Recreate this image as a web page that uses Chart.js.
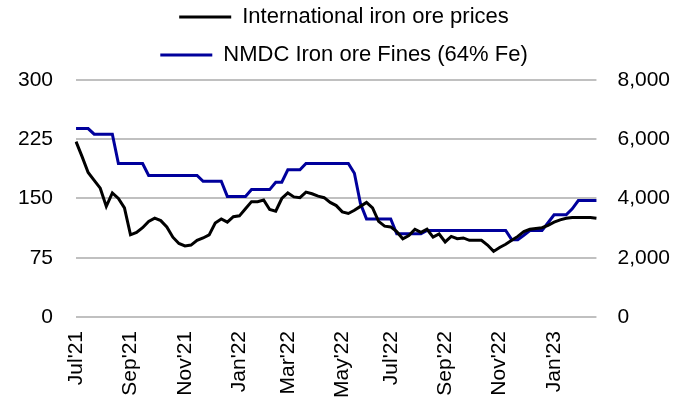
<!DOCTYPE html>
<html>
<head>
<meta charset="utf-8">
<script src="https://cdn.jsdelivr.net/npm/chart.js@4"></script>
<style>
  html, body { margin: 0; padding: 0; background: #fff; }
  #wrap { width: 689px; height: 401px; }
</style>
</head>
<body>
<div id="wrap"><canvas id="myChart" width="689" height="401"></canvas></div>
<script>
// weekly series, first week of Jul'21 to mid Mar'23
var startDate = '2021-07-02';
var intlPrices = [222,203,183,173,163,140,157,150,138,104,107,113,121,125,122,114,101,93,90,91,
                  97,100,104,119,124,120,127,128,137,146,146,148,136,134,150,157,152,151,158,156,
                  153,151,145,141,133,131,135,140,145,138,121,115,114,108,99,103,111,107,111,101,
                  105,95,102,99,100,97,97,97,91,83,88,92,97,102,108,111,112,113,116,120,
                  123,125,126,126,126,126,125];
var nmdcFines = [6360,6360,6360,6170,6170,6170,6170,5180,5180,5180,5180,5180,4780,4780,4780,4780,4780,4780,4780,4780,
                 4780,4580,4580,4580,4580,4070,4070,4070,4070,4300,4300,4300,4300,4550,4550,4970,4970,4970,5180,5180,
                 5180,5180,5180,5180,5180,5180,4850,3830,3310,3310,3310,3310,3310,2810,2810,2810,2810,2810,2920,2920,
                 2920,2920,2920,2920,2920,2920,2920,2920,2920,2920,2920,2920,2610,2610,2760,2920,2920,2920,3180,3450,
                 3450,3450,3650,3930,3930,3930,3930];
var monthNames = ['Jan','Feb','Mar','Apr','May','Jun','Jul','Aug','Sep','Oct','Nov','Dec'];
var seriesNames = ['International iron ore prices', 'NMDC Iron ore Fines (64% Fe)'];

var weeks = [];
var d0 = new Date(startDate + 'T00:00:00');
for (var i = 0; i < intlPrices.length; i++) {
    weeks.push(new Date(d0.getTime() + i * 7 * 86400000));
}

Chart.defaults.font.family = "'Liberation Sans', Arial, sans-serif";
Chart.defaults.font.size = 21;
Chart.defaults.color = '#000';

var noTick = 'rgba(0,0,0,0)';

var ctx = document.getElementById('myChart').getContext('2d');
var myChart = new Chart(ctx, {
    type: 'line',
    data: {
        labels: weeks,
        datasets: [{
            label: seriesNames[0],
            data: intlPrices,
            borderColor: '#000000',
            backgroundColor: '#000000',
            borderWidth: 3,
            pointRadius: 0,
            tension: 0,
            yAxisID: 'y',
        }, {
            label: seriesNames[1],
            data: nmdcFines,
            borderColor: '#00009c',
            backgroundColor: '#00009c',
            borderWidth: 3,
            pointRadius: 0,
            tension: 0,
            yAxisID: 'y1',
        }],
    },
    options: {
        responsive: false,
        animation: false,
        layout: { padding: { top: -10, left: 18, right: 19, bottom: 3 } },
        plugins: {
            tooltip: { enabled: false },
            legend: {
                position: 'top',
                labels: {
                    usePointStyle: true,
                    pointStyle: 'line',
                    pointStyleWidth: 52,
                    padding: 16,
                    font: { size: 22 },
                    color: '#000',
                },
            },
            // empty spacer between legend and plot
            subtitle: {
                display: true,
                text: '',
                weight: 500,
                padding: 0,
                font: { size: 4, lineHeight: 1 },
            },
        },
        scales: {
            x: {
                grid: { display: true, drawOnChartArea: false, drawTicks: true, tickLength: 14, tickColor: noTick },
                border: { display: false },
                ticks: {
                    autoSkip: false,
                    maxRotation: 90,
                    minRotation: 90,
                    padding: 0,
                    callback: function (value, index) {
                        var d = weeks[index];
                        if (d.getDate() <= 7 && d.getMonth() % 2 === 0) {
                            return monthNames[d.getMonth()] + "'" + String(d.getFullYear()).slice(2);
                        }
                        return null;
                    },
                },
            },
            y: {
                position: 'left',
                min: 0,
                max: 300,
                ticks: { stepSize: 75, padding: 0 },
                grid: { color: '#c0c0c0', lineWidth: 2, drawTicks: true, tickLength: 23, tickColor: noTick },
                border: { display: false },
            },
            y1: {
                position: 'right',
                min: 0,
                max: 8000,
                ticks: {
                    stepSize: 2000,
                    padding: 0,
                    callback: function (v) { return v.toLocaleString('en-US'); },
                },
                grid: { drawOnChartArea: false, drawTicks: true, tickLength: 21, tickColor: noTick },
                border: { display: false },
            },
        },
    },
});
</script>
</body>
</html>
